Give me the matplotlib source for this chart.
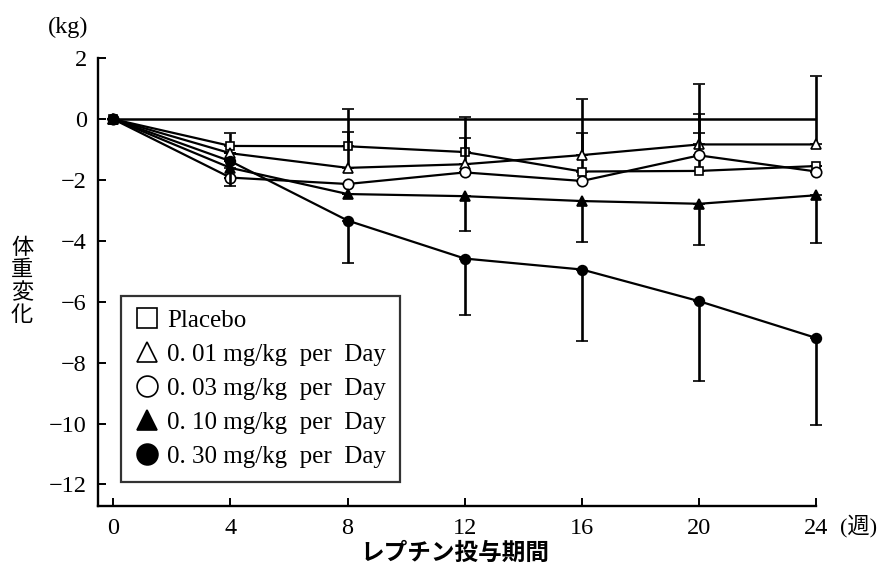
import matplotlib
matplotlib.use("Agg")
import matplotlib.pyplot as plt
from matplotlib.lines import Line2D

weeks = [0, 4, 8, 12, 16, 20, 24]
labels = ["Placebo", "0. 01 mg/kg  per  Day", "0. 03 mg/kg  per  Day",
          "0. 10 mg/kg  per  Day", "0. 30 mg/kg  per  Day"]

placebo = [0, -0.88, -0.89, -1.08, -1.72, -1.70, -1.54]
d001 = [0, -1.12, -1.60, -1.48, -1.18, -0.83, -0.83]
d003 = [0, -1.92, -2.13, -1.75, -2.03, -1.19, -1.72]
d010 = [0, -1.60, -2.46, -2.53, -2.69, -2.78, -2.50]
d030 = [0, -1.38, -3.33, -4.58, -4.94, -5.98, -7.19]

# error bars (upper / lower lengths)
placebo_up = [0, 0.43, 1.23, 1.15, 2.39, 1.87, 0]
d001_up = [0, 0, 1.18, 0.86, 0.73, 1.98, 2.24]
d003_up = [0, 0, 0, 0, 0, 0.74, 0]
d010_lo = [0, 0.60, 0, 1.15, 1.34, 1.36, 1.57]
d030_lo = [0, 0, 1.41, 1.86, 2.36, 2.63, 2.87]
zeros = [0] * 7

yticks = [2, 0, -2, -4, -6, -8, -10, -12]
xticks = [0, 4, 8, 12, 16, 20, 24]

serif = ["Liberation Serif", "DejaVu Serif"]
jp = ["Noto Sans CJK JP", "DejaVu Sans"]

fig = plt.figure(figsize=(8.81, 5.71), dpi=100)
ax = fig.add_axes([98 / 881, 1 - 505.7 / 571, (816.3 - 98) / 881, (505.7 - 58.3) / 571])

ax.hlines(0, weeks[0], weeks[-1], color="black", lw=1.8, zorder=1)

series = [
    (placebo, zeros, placebo_up, "s", "white", 6.0),
    (d001, zeros, d001_up, "^", "white", 6.5),
    (d003, zeros, d003_up, "o", "white", 7.5),
    (d010, d010_lo, zeros, "^", "black", 6.5),
    (d030, d030_lo, zeros, "o", "black", 7.0),
]
for i, (vals, lo, up, mk, fc, ms) in enumerate(series):
    cont = ax.errorbar(weeks, vals, yerr=[lo, up], color="black", lw=1.6,
                       elinewidth=1.9, capsize=4.3, capthick=1.7,
                       marker=mk, mfc=fc, mec="black", mew=1.2, ms=ms, zorder=3 + i)
    for art in cont.get_children():
        art.set_clip_on(False)

ax.set_xlim(-0.52, 24)
ax.set_ylim(-12.70, 2)
ax.set_xticks(xticks)
ax.set_yticks(yticks)
ax.spines["top"].set_visible(False)
ax.spines["right"].set_visible(False)
for s in ("left", "bottom"):
    ax.spines[s].set_linewidth(1.7)
ax.tick_params(axis="both", direction="in", length=6, width=1.4, labelsize=17.5)
ax.tick_params(axis="y", pad=8)
ax.tick_params(axis="x", pad=9)
for t in ax.get_xticklabels() + ax.get_yticklabels():
    t.set_fontfamily(serif)

fig.text(68 / 881, 1 - 27 / 571, "(kg)", family=serif, fontsize=17.5,
         ha="center", va="center")
fig.text(859 / 881, 1 - 526 / 571, "(週)", family=serif + jp, fontsize=16,
         ha="center", va="center")
fig.text(455 / 881, 1 - 553 / 571, "レプチン投与期間", family=jp, fontsize=17,
         fontweight="bold", ha="center", va="center")
fig.text(22 / 881, 1 - 281 / 571, "\n".join("体重変化"), family=jp, fontsize=16,
         ha="center", va="center", linespacing=0.98)

handles = [
    Line2D([], [], ls="none", marker="s", mfc="white", mec="black", mew=1.2, ms=14),
    Line2D([], [], ls="none", marker="^", mfc="white", mec="black", mew=1.2, ms=14),
    Line2D([], [], ls="none", marker="o", mfc="white", mec="black", mew=1.2, ms=15),
    Line2D([], [], ls="none", marker="^", mfc="black", mec="black", mew=1.2, ms=14),
    Line2D([], [], ls="none", marker="o", mfc="black", mec="black", mew=1.2, ms=15),
]
leg = ax.legend(handles, labels, loc="upper left",
                bbox_to_anchor=(121 / 881, 1 - 296 / 571),
                bbox_transform=fig.transFigure, borderaxespad=0,
                prop={"family": serif, "size": 18}, frameon=True, fancybox=False,
                handlelength=1.0, handletextpad=0.3, labelspacing=0.46,
                borderpad=0.55)
leg.get_frame().set_edgecolor("black")
leg.get_frame().set_linewidth(1.6)

fig.savefig("out.png", dpi=100)
